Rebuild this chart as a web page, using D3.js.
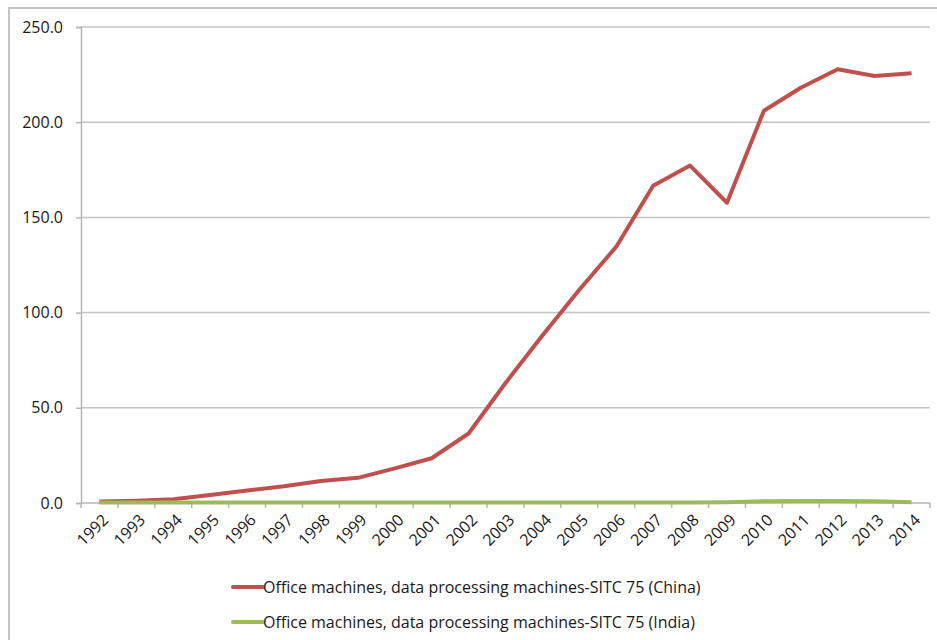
<!DOCTYPE html>
<html>
<head>
<meta charset="utf-8">
<script src="https://cdn.jsdelivr.net/npm/d3@7"></script>
<style>
  body { margin: 0; background: #fff; }
  text { font-family: "Open Sans", sans-serif; fill: #1a1a1a; }
</style>
</head>
<body>
<div id="chart-area"></div>
<script>
var width = 937;
var height = 640;

// data
var years = ["1992", "1993", "1994", "1995", "1996", "1997", "1998", "1999", "2000", "2001", "2002",
  "2003", "2004", "2005", "2006", "2007", "2008", "2009", "2010", "2011", "2012", "2013", "2014"];
var china = [0.8, 1.2, 2.0, 4.2, 6.6, 8.8, 11.5, 13.2, 18.2, 23.5, 36.5,
  63, 88, 112, 134.6, 166.6, 177.2, 157.7, 206.0, 218.1, 227.8, 224.3, 225.7];
var india = [0.2, 0.2, 0.2, 0.2, 0.2, 0.2, 0.2, 0.2, 0.2, 0.2, 0.2,
  0.2, 0.2, 0.2, 0.2, 0.3, 0.3, 0.4, 0.9, 1.0, 1.0, 0.9, 0.4];
var yTicks = [0, 50, 100, 150, 200, 250];
var seriesNames = [
  "Office machines, data processing machines-SITC 75 (China)",
  "Office machines, data processing machines-SITC 75 (India)"
];
var seriesColors = ["#c0504d", "#9bbb59"];

var margin = { left: 81, right: 7, top: 27, bottom: 137 };

var svg = d3.select("#chart-area")
  .append("svg")
  .attr("width", width)
  .attr("height", height);

// outer chart frame
svg.append("path")
  .attr("d", "M9,640 V8 H937")
  .attr("fill", "none")
  .attr("stroke", "#c4c4c4")
  .attr("stroke-width", 2);

var x = d3.scaleBand()
  .domain(years)
  .range([margin.left, width - margin.right]);

var y = d3.scaleLinear()
  .domain([0, 250])
  .range([height - margin.bottom, margin.top]);

// gridlines
svg.append("g")
  .selectAll("line")
  .data(yTicks.slice(1))
  .enter()
  .append("line")
  .attr("x1", margin.left)
  .attr("x2", width - margin.right)
  .attr("y1", function(d) { return y(d); })
  .attr("y2", function(d) { return y(d); })
  .attr("stroke", "#c4c4c4")
  .attr("stroke-width", 1.5);

// y axis
var yAxis = svg.append("g")
  .attr("transform", "translate(" + margin.left + ",0)")
  .call(d3.axisLeft(y).tickValues(yTicks).tickFormat(d3.format(".1f")).tickSize(5).tickPadding(13));
yAxis.selectAll("text").style("font-size", "16px").attr("fill", "#1a1a1a");
yAxis.selectAll("line, path").attr("stroke", "#b4b4b4").attr("stroke-width", 1.5);

// x axis with ticks on category boundaries
var xAxisG = svg.append("g")
  .attr("transform", "translate(0," + y(0) + ")");
xAxisG.append("line")
  .attr("x1", margin.left)
  .attr("x2", width - margin.right)
  .attr("stroke", "#b4b4b4")
  .attr("stroke-width", 1.5);
var bounds = years.map(function(d) { return x(d); }).concat([x(years[years.length - 1]) + x.bandwidth()]);
xAxisG.selectAll(".tk")
  .data(bounds)
  .enter()
  .append("line")
  .attr("x1", function(d) { return d; })
  .attr("x2", function(d) { return d; })
  .attr("y1", 0)
  .attr("y2", 5)
  .attr("stroke", "#b4b4b4")
  .attr("stroke-width", 1.5);
xAxisG.selectAll(".lbl")
  .data(years)
  .enter()
  .append("text")
  .attr("text-anchor", "end")
  .style("font-size", "16px")
  .attr("transform", function(d) {
    return "translate(" + (x(d) + x.bandwidth() / 2 + 6) + ",14) rotate(-45)";
  })
  .attr("dy", "0.35em")
  .text(function(d) { return d; });

// lines
var line = d3.line()
  .x(function(d, i) { return x(years[i]) + x.bandwidth() / 2; })
  .y(function(d) { return y(d); });

[china, india].forEach(function(series, k) {
  svg.append("path")
    .datum(series)
    .attr("d", line)
    .attr("fill", "none")
    .attr("stroke", seriesColors[k])
    .attr("stroke-width", 4)
    .attr("stroke-linejoin", "round");
});

// legend
var legend = svg.append("g");
seriesNames.forEach(function(name, k) {
  var ly = 587 + k * 35;
  legend.append("line")
    .attr("x1", 233)
    .attr("x2", 263)
    .attr("y1", ly)
    .attr("y2", ly)
    .attr("stroke", seriesColors[k])
    .attr("stroke-width", 4)
    .attr("stroke-linecap", "round");
  legend.append("text")
    .attr("x", 263)
    .attr("y", ly)
    .attr("dy", "0.35em")
    .style("font-size", "16px")
    .text(name);
});
</script>
</body>
</html>
